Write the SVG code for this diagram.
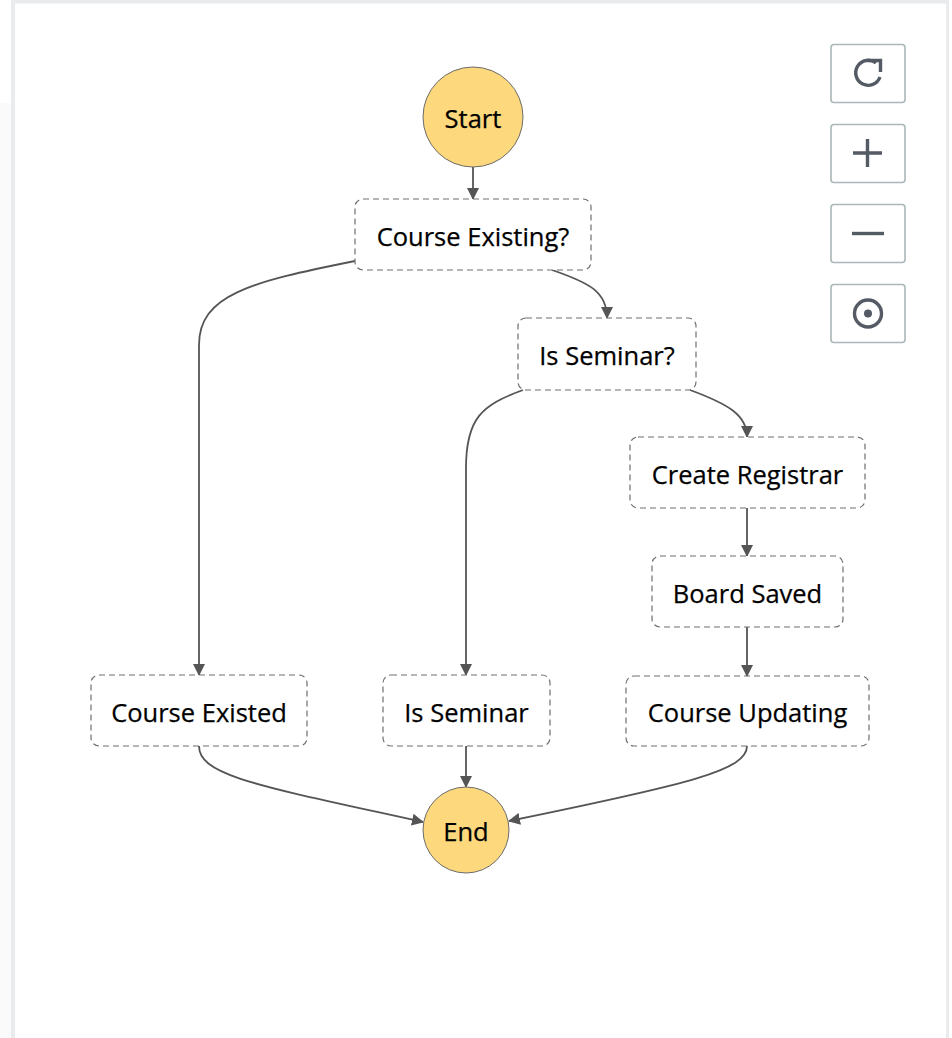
<svg xmlns="http://www.w3.org/2000/svg" width="952" height="1038" viewBox="0 0 952 1038">
<style>
.node rect{fill:#fff;stroke:#6e6e6e;stroke-width:1.2;stroke-dasharray:6 4}
.term circle{fill:#fdd87c;stroke:#6b6b6b;stroke-width:1}
text{font-family:"Open Sans","Noto Sans","Liberation Sans",sans-serif;font-size:25.5px;fill:#000;text-anchor:middle;stroke:#000;stroke-width:0.25}
.edges path{fill:none;stroke:#555;stroke-width:1.8}
.btn rect{fill:#fff;stroke:#aab7b8;stroke-width:1.6}
.btn .ic{fill:none;stroke:#545b64;stroke-width:3.4}
</style>
<defs>
<marker id="ah" viewBox="0 0 12 12" refX="11" refY="6" markerWidth="12" markerHeight="12" markerUnits="userSpaceOnUse" orient="auto">
<path d="M0,0 L12,6 L0,12 Z" fill="#555"/>
</marker>
</defs>
<rect width="952" height="1038" fill="#fff"/>
<rect x="0" y="103" width="11" height="935" fill="#fafafa"/>
<rect x="11" y="3" width="4" height="1035" fill="#e9ebed"/>
<rect x="11" y="0" width="937" height="3.5" fill="#e9ebed"/>
<rect x="946" y="0" width="3" height="1038" fill="#e9ebed"/>

<g class="edges">
<path d="M473,167 L473,199" marker-end="url(#ah)"/>
<path d="M355,261 C250,282 199,295 199,345 L199,675" marker-end="url(#ah)"/>
<path d="M552,270 C590,283 607,292 607,318" marker-end="url(#ah)"/>
<path d="M523,390 C482,405 466,418 466,468 L466,675" marker-end="url(#ah)"/>
<path d="M690,390 C728,404 747,415 747,437" marker-end="url(#ah)"/>
<path d="M747,508 L747,556" marker-end="url(#ah)"/>
<path d="M747,627 L747,676" marker-end="url(#ah)"/>
<path d="M199,746 C199,776 260,786 423,822" marker-end="url(#ah)"/>
<path d="M466,746 L466,787" marker-end="url(#ah)"/>
<path d="M747,746 C747,770 690,784 509,821" marker-end="url(#ah)"/>
</g>

<g id="start" class="term"><circle cx="473" cy="117" r="50"/><text x="473" y="127.5">Start</text></g>
<g id="course-existing" class="node"><rect x="355" y="199" width="236" height="71" rx="8"/><text x="473" y="245.5">Course Existing?</text></g>
<g id="is-seminar-q" class="node"><rect x="518" y="318" width="178" height="72" rx="8"/><text x="607" y="364.5">Is Seminar?</text></g>
<g id="create-registrar" class="node"><rect x="630" y="437" width="235" height="71" rx="8"/><text x="747.5" y="483.5">Create Registrar</text></g>
<g id="board-saved" class="node"><rect x="652" y="556" width="191" height="71" rx="8"/><text x="747.5" y="602.5">Board Saved</text></g>
<g id="course-existed" class="node"><rect x="91" y="675" width="216" height="71" rx="8"/><text x="199" y="721.5">Course Existed</text></g>
<g id="is-seminar" class="node"><rect x="383" y="675" width="167" height="71" rx="8"/><text x="466.5" y="721.5">Is Seminar</text></g>
<g id="course-updating" class="node"><rect x="626" y="676" width="243" height="70" rx="8"/><text x="747.5" y="722">Course Updating</text></g>
<g id="end" class="term"><circle cx="466" cy="830" r="43"/><text x="466" y="841">End</text></g>

<g id="controls">
<g class="btn"><rect x="831" y="44.5" width="74" height="58" rx="3"/>
<path class="ic" d="M880,77 A12.5,12.5 0 1 1 876,63"/>
<path class="ic" d="M867.5,60.5 H880.5 V72"/></g>
<g class="btn"><rect x="831" y="124.5" width="74" height="58" rx="3"/>
<path class="ic" d="M853,153 H882 M867.5,139 V167"/></g>
<g class="btn"><rect x="831" y="204.5" width="74" height="58" rx="3"/>
<path class="ic" d="M852,233.5 H884"/></g>
<g class="btn"><rect x="831" y="284.5" width="74" height="58" rx="3"/>
<circle class="ic" cx="868" cy="313.5" r="13.5"/><circle cx="868" cy="313.5" r="4" fill="#545b64"/></g>
</g>
</svg>
